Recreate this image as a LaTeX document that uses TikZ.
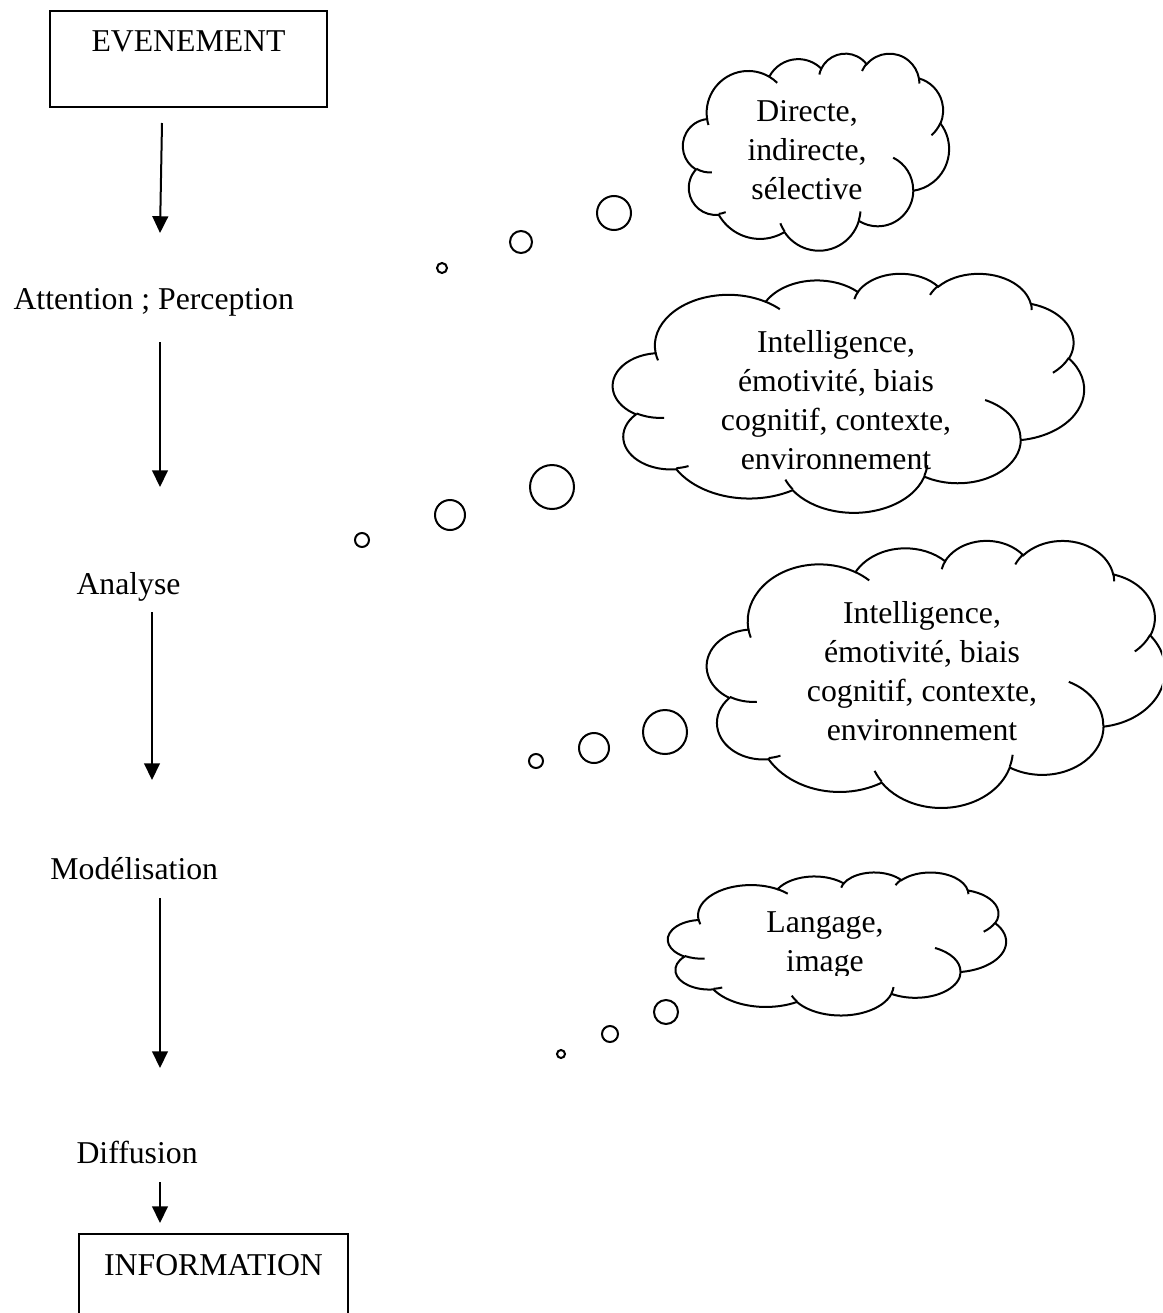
\documentclass[tikz,border=0pt]{standalone}
\usepackage{fontspec}
\setmainfont{Liberation Serif}
\usetikzlibrary{arrows.meta}

% Cloud outline built from elliptical arcs whose angles are measured on the
% ellipse itself (visual angles); convert them to parametric angles for TikZ.
\makeatletter
\newcommand\cloudarc[5]{% #1 key, #2 x radius, #3 y radius, #4 start, #5 sweep
  \pgfmathsetmacro\cl@a{atan2((#2)*sin(#4),(#3)*cos(#4))}%
  \pgfmathsetmacro\cl@b{atan2((#2)*sin((#4)+(#5)),(#3)*cos((#4)+(#5)))}%
  \pgfmathsetmacro\cl@d{\cl@b-\cl@a}%
  \pgfmathsetmacro\cl@d{\cl@d+360*and((#5)>0,\cl@d<0)-360*and((#5)<0,\cl@d>0)}%
  \expandafter\xdef\csname cld#1\endcsname{arc[start angle=\cl@a,delta angle=\cl@d,x radius=#2,y radius=#3]}%
}
\makeatother
% outline, in a 432 x 432 box
\cloudarc{A}{67.53}{91.90}{-190.4875}{123.7805}
\cloudarc{B}{53.33}{72.67}{-144.1024}{89.9452}
\cloudarc{C}{43.65}{59.45}{-145.8079}{99.7230}
\cloudarc{D}{48.57}{65.95}{-130.9861}{117.2417}
\cloudarc{E}{53.33}{72.73}{-78.7089}{109.0269}
\cloudarc{F}{67.75}{92.20}{-46.2673}{130.2690}
\cloudarc{G}{57.85}{78.67}{0.6250}{114.0333}
\cloudarc{H}{67.52}{92.15}{22.4516}{115.1726}
\cloudarc{I}{77.20}{105.43}{66.2426}{75.7110}
\cloudarc{J}{43.60}{59.18}{-274.9421}{146.7356}
\cloudarc{K}{43.45}{59.45}{-246.8285}{152.5189}
% inner creases
\cloudarc{a}{43.45}{59.45}{86.7420}{26.4295}
\cloudarc{b}{43.60}{59.18}{73.6105}{11.4475}
\cloudarc{c}{67.52}{92.15}{137.6242}{14.0811}
\cloudarc{d}{67.52}{92.15}{6.4533}{15.9984}
\cloudarc{e}{57.85}{78.67}{-70.2924}{70.9174}
\cloudarc{f}{53.33}{72.73}{30.3180}{27.7515}
\cloudarc{g}{48.57}{65.95}{-13.7443}{14.8589}
\cloudarc{h}{48.57}{65.95}{-149.1815}{18.1954}
\cloudarc{i}{43.65}{59.45}{-163.4943}{17.6864}
\cloudarc{j}{67.53}{91.90}{-66.7070}{12.3194}
\cloudarc{k}{67.53}{91.90}{157.6544}{11.8582}

% #1 name, #2 left, #3 top, #4 width, #5 height
\newcommand\thoughtcloud[5]{%
  \pgfmathsetmacro\cloudsx{#4*0.4/432}%
  \pgfmathsetmacro\cloudsy{#5*0.4/432}%
  \begin{scope}[shift={(#2,#3)},x=\cloudsx pt,y=-\cloudsy pt]
    \path[cloudline,draw,fill=white] (39.00,143.70)
      \cldA\cldB\cldC\cldD\cldE\cldF\cldG\cldH\cldI\cldJ\cldK -- cycle;
    \draw[cloudline] (46.93,261.77) \clda (69.28,348.99) \cldb
      (164.78,390.90) \cldc (288.27,347.51) \cldd (341.29,229.54) \clde
      (417.98,153.54) \cldf (383.24,54.26) \cldg (290.78,39.52) \cldh
      (221.41,47.20) \cldi (140.00,51.92) \cldj (41.27,157.89) \cldk;
    \coordinate (#1) at (216,216);
  \end{scope}
}

\tikzset{
  txt/.style={font=\fontsize{12.7}{15.6}\selectfont, inner sep=0pt},
  cloudtxt/.style={txt, align=center},
  cloudline/.style={line width=0.8pt, black},
  flow/.style={line width=0.8pt, -{Triangle[width=6.3pt,length=6.7pt]}},
  bubble/.style={circle, draw, line width=0.8pt, fill=white, inner sep=0pt},
  framebox/.style={txt, draw, line width=0.8pt, inner xsep=0pt, inner ysep=0pt},
}

\begin{document}
\begin{tikzpicture}[x=0.4pt,y=-0.4pt]
  \useasboundingbox (0,0) rectangle (1162,1313);
  \clip (0,0) rectangle (1162,1313);

  % --- process chain on the left ---
  \node[framebox, anchor=north, minimum width=110.8pt,
        text height=16pt, text depth=22.4pt] (evenement) at (188.5,10) {EVENEMENT};
  \node[txt, anchor=base west] (attention) at (13,309) {Attention ; Perception};
  \node[txt, anchor=base west] (analyse) at (76,594) {Analyse};
  \node[txt, anchor=base west] (modelisation) at (50,879) {Modélisation};
  \node[txt, anchor=base west] (diffusion) at (76,1163) {Diffusion};
  \node[framebox, anchor=north, minimum width=107.6pt,
        text height=16.4pt, text depth=24pt] (information) at (213.5,1233) {INFORMATION};

  \coordinate (a1s) at (162,123);  \coordinate (a1e) at (160,233);
  \coordinate (a2s) at (160,342);  \coordinate (a2e) at (160,487);
  \coordinate (a3s) at (152,612);  \coordinate (a3e) at (152,780);
  \coordinate (a4s) at (160,898);  \coordinate (a4e) at (160,1068);
  \coordinate (a5s) at (160,1182); \coordinate (a5e) at (160,1223);
  \draw[flow] (a1s) -- (a1e);
  \draw[flow] (a2s) -- (a2e);
  \draw[flow] (a3s) -- (a3e);
  \draw[flow] (a4s) -- (a4e);
  \draw[flow] (a5s) -- (a5e);

  % --- thought clouds ---
  \thoughtcloud{cloudA}{683}{53}{266}{197}
  \node[cloudtxt] (textA) at (807,150) {Directe,\\indirecte,\\sélective};
  \node[bubble, minimum size=13.6pt] (bA1) at (614,213) {};
  \node[bubble, minimum size=8.8pt]  (bA2) at (521,242) {};
  \node[bubble, minimum size=4pt]    (bA3) at (442,268) {};

  \thoughtcloud{cloudB}{613}{273}{471}{239}
  \node[cloudtxt] (textB) at (836,400) {Intelligence,\\émotivité, biais\\cognitif, contexte,\\environnement};
  \node[bubble, minimum size=17.6pt] (bB1) at (552,487) {};
  \node[bubble, minimum size=12pt]   (bB2) at (450,515) {};
  \node[bubble, minimum size=5.6pt]  (bB3) at (362,540) {};

  \thoughtcloud{cloudC}{707}{540}{458}{267}
  \node[cloudtxt] (textC) at (922,671) {Intelligence,\\émotivité, biais\\cognitif, contexte,\\environnement};
  \node[bubble, minimum size=17.6pt] (bC1) at (665,732) {};
  \node[bubble, minimum size=12pt]   (bC2) at (594,748) {};
  \node[bubble, minimum size=5.6pt]  (bC3) at (536,761) {};

  \thoughtcloud{cloudD}{668}{872}{338}{143}
  \begin{scope}
    \clip (668,872) rectangle (1006,975);
    \node[cloudtxt] (textD) at (825,945) {Langage,\\image};
  \end{scope}
  \node[bubble, minimum size=9.6pt] (bD1) at (666,1012) {};
  \node[bubble, minimum size=6.4pt] (bD2) at (610,1034) {};
  \node[bubble, minimum size=3.2pt] (bD3) at (561,1054) {};
\end{tikzpicture}
\end{document}
